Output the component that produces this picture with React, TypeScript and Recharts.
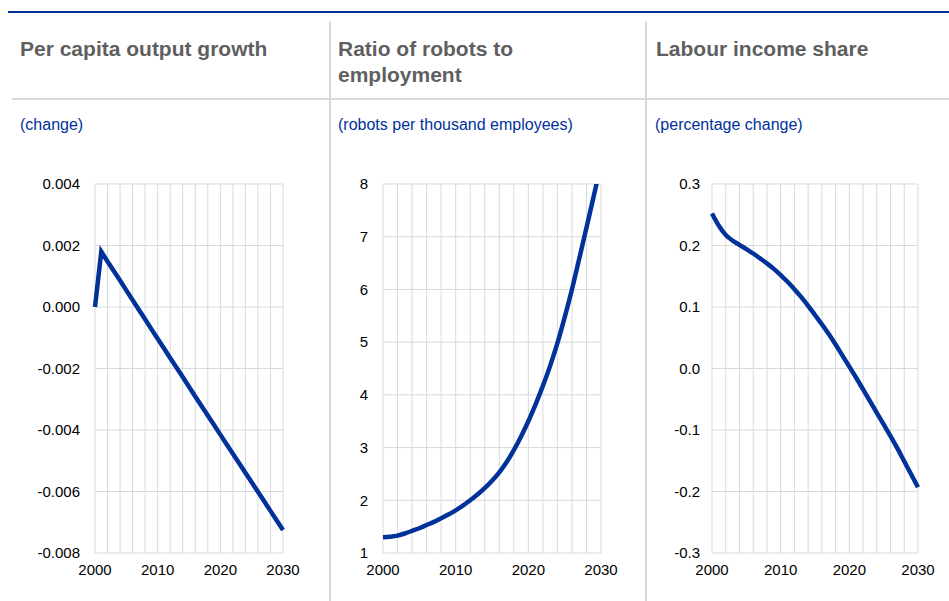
import React from "react";
import { LineChart, Line, XAxis, YAxis, CartesianGrid } from "recharts";

const years = [
  2000, 2001, 2002, 2003, 2004, 2005, 2006, 2007, 2008, 2009, 2010, 2011, 2012,
  2013, 2014, 2015, 2016, 2017, 2018, 2019, 2020, 2021, 2022, 2023, 2024, 2025,
  2026, 2027, 2028, 2029, 2030,
];

// per capita output growth (change)
const outputGrowth = [
  0.0, 0.0018, 0.00148, 0.00117, 0.00086, 0.00054, 0.00023, -0.00009, -0.0004,
  -0.00072, -0.00103, -0.00134, -0.00166, -0.00197, -0.00228, -0.00259,
  -0.00291, -0.00322, -0.00353, -0.00384, -0.00415, -0.00446, -0.00477,
  -0.00508, -0.00539, -0.0057, -0.00601, -0.00632, -0.00663, -0.00694,
  -0.00725,
];

// robots per thousand employees
const robotsRatio = [
  1.3, 1.31, 1.33, 1.37, 1.42, 1.47, 1.53, 1.59, 1.66, 1.73, 1.81, 1.9, 2.0,
  2.11, 2.23, 2.37, 2.53, 2.72, 2.95, 3.21, 3.5, 3.82, 4.17, 4.55, 4.98, 5.47,
  6.0, 6.58, 7.17, 7.77, 8.38,
];

// labour income share (percentage change)
const labourShare = [
  0.252, 0.232, 0.217, 0.208, 0.201, 0.194, 0.187, 0.179, 0.171, 0.162, 0.152,
  0.141, 0.129, 0.116, 0.102, 0.087, 0.072, 0.056, 0.039, 0.021, 0.003, -0.015,
  -0.034, -0.053, -0.072, -0.091, -0.11, -0.13, -0.151, -0.172, -0.193,
];

const yearTicks = [2000, 2010, 2020, 2030];
const gridYears = [
  2000, 2002, 2004, 2006, 2008, 2010, 2012, 2014, 2016, 2018, 2020, 2022, 2024,
  2026, 2028, 2030,
];
const growthTicks = [0.004, 0.002, 0, -0.002, -0.004, -0.006, -0.008];
const robotTicks = [1, 2, 3, 4, 5, 6, 7, 8];
const shareTicks = [0.3, 0.2, 0.1, 0, -0.1, -0.2, -0.3];

const BLUE = "#003299";
const GRID = "#d9d9d9";
const FONT = "'Liberation Sans', Arial, sans-serif";

const growthData = years.map((y, i) => ({ year: y, value: outputGrowth[i] }));
const robotData = years.map((y, i) => ({ year: y, value: robotsRatio[i] }));
const shareData = years.map((y, i) => ({ year: y, value: labourShare[i] }));

interface PanelProps {
  left: number;
  width: number;
  yWidth: number;
  right: number;
  data: { year: number; value: number }[];
  domain: [number, number];
  ticks: number[];
  fmt: (v: number) => string;
  curve: "linear" | "monotone";
  tickGap: number;
}

const Panel: React.FC<PanelProps> = (p) => (
  <div style={{ position: "absolute", left: p.left, top: 170 }}>
    <LineChart
      width={p.width}
      height={430}
      data={p.data}
      margin={{ top: 14, right: p.right, bottom: 17, left: 0 }}
    >
      <CartesianGrid
        stroke={GRID}
        strokeWidth={1}
        verticalValues={gridYears}
        horizontalValues={p.ticks}
      />
      <XAxis
        dataKey="year"
        type="number"
        domain={[2000, 2030]}
        ticks={yearTicks}
        interval={0}
        axisLine={false}
        tickLine={false}
        tickSize={0}
        tickMargin={11}
        height={30}
        tick={{ fontSize: 15, fill: "#000" }}
      />
      <YAxis
        type="number"
        domain={p.domain}
        ticks={p.ticks}
        interval={0}
        allowDataOverflow
        axisLine={false}
        tickLine={false}
        tickSize={0}
        tickMargin={p.tickGap}
        width={p.yWidth}
        tickFormatter={p.fmt}
        tick={{ fontSize: 15, fill: "#000" }}
      />
      <Line
        type={p.curve}
        dataKey="value"
        stroke={BLUE}
        strokeWidth={4.5}
        dot={false}
        isAnimationActive={false}
      />
    </LineChart>
  </div>
);

const titleStyle: React.CSSProperties = {
  position: "absolute",
  top: 36,
  fontSize: 21,
  lineHeight: "26px",
  fontWeight: "bold",
  color: "#5f5f5f",
};

const subStyle: React.CSSProperties = {
  position: "absolute",
  top: 116,
  fontSize: 16,
  lineHeight: "18px",
  color: BLUE,
};

export default function App() {
  return (
    <div
      style={{
        position: "absolute",
        left: 0,
        top: 0,
        width: 949,
        height: 601,
        background: "#fff",
        fontFamily: FONT,
        overflow: "hidden",
      }}
    >
      <div style={{ position: "absolute", left: 8, top: 11, width: 941, height: 2, background: BLUE }} />
      <div style={{ position: "absolute", left: 12, top: 98, width: 937, height: 2, background: GRID }} />
      <div style={{ position: "absolute", left: 329, top: 21, width: 2, height: 580, background: GRID }} />
      <div style={{ position: "absolute", left: 645, top: 21, width: 2, height: 580, background: GRID }} />

      <div style={{ ...titleStyle, left: 20 }}>Per capita output growth</div>
      <div style={{ ...titleStyle, left: 338 }}>
        Ratio of robots to
        <br />
        employment
      </div>
      <div style={{ ...titleStyle, left: 656 }}>Labour income share</div>

      <div style={{ ...subStyle, left: 20 }}>(change)</div>
      <div style={{ ...subStyle, left: 338 }}>(robots per thousand employees)</div>
      <div style={{ ...subStyle, left: 655 }}>(percentage change)</div>

      <Panel
        left={0}
        width={330}
        yWidth={95}
        right={47}
        data={growthData}
        domain={[-0.008, 0.004]}
        ticks={growthTicks}
        fmt={(v) => v.toFixed(3)}
        curve="linear"
        tickGap={15}
      />
      <Panel
        left={330}
        width={316}
        yWidth={53}
        right={45}
        data={robotData}
        domain={[1, 8]}
        ticks={robotTicks}
        fmt={(v) => String(v)}
        curve="monotone"
        tickGap={15}
      />
      <Panel
        left={646}
        width={303}
        yWidth={66}
        right={31}
        data={shareData}
        domain={[-0.3, 0.3]}
        ticks={shareTicks}
        fmt={(v) => v.toFixed(1)}
        curve="monotone"
        tickGap={12}
      />
    </div>
  );
}
